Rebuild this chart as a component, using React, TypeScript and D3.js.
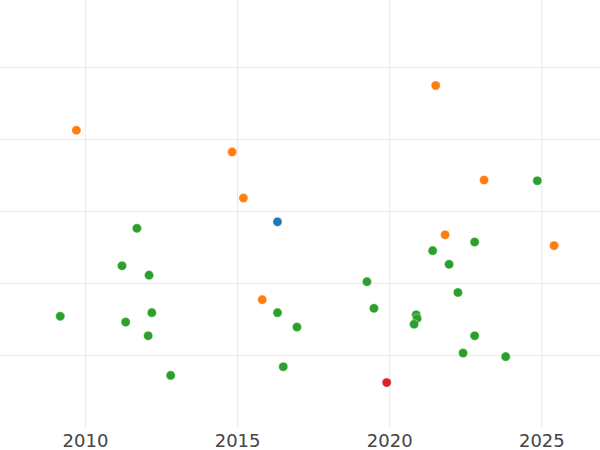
import React from "react";
import * as d3 from "d3";

const groups = ["A", "B", "C", "D"];
const colors = ["#1f77b4", "#ff7f0e", "#2ca02c", "#d62728"];

const yearsA = [2016.31];
const valuesA = [2.85];

const yearsB = [2009.70, 2014.82, 2015.19, 2021.51, 2023.10, 2015.81, 2021.82, 2025.40];
const valuesB = [4.12, 3.82, 3.18, 4.74, 3.43, 1.77, 2.67, 2.52];

const yearsC = [
  2024.85, 2011.69, 2011.20, 2012.09, 2009.17, 2011.32, 2012.18, 2012.06, 2016.31, 2016.95,
  2016.50, 2012.80, 2022.79, 2021.41, 2021.95, 2019.25, 2022.24, 2019.48, 2020.87, 2020.90,
  2020.80, 2022.79, 2022.41, 2023.81,
];
const valuesC = [
  3.42, 2.76, 2.24, 2.11, 1.54, 1.46, 1.59, 1.27, 1.59, 1.39,
  0.84, 0.72, 2.57, 2.45, 2.26, 2.02, 1.87, 1.65, 1.56, 1.51,
  1.43, 1.27, 1.03, 0.98,
];

const yearsD = [2019.90];
const valuesD = [0.62];

const xTicks = [2010, 2015, 2020, 2025];
const yTicks = [1, 2, 3, 4, 5];

const W = 600;
const H = 450;
const plotBottom = 427.3;

export default function App() {
  const x = d3.scaleLinear().domain([2007.19, 2026.91]).range([0, W]);
  const y = d3.scaleLinear().domain([0, 5.927]).range([plotBottom, 0]);

  const series = [
    { years: yearsA, values: valuesA },
    { years: yearsB, values: valuesB },
    { years: yearsC, values: valuesC },
    { years: yearsD, values: valuesD },
  ];

  return (
    <svg
      width={W}
      height={H}
      style={{ position: "absolute", left: 0, top: 0, background: "#fff" }}
    >
      <rect x={0} y={0} width={W} height={H} fill="#fff" />
      <g>
        {yTicks.map((t) => (
          <line
            key={"y" + t}
            x1={0}
            x2={W}
            y1={Math.round(y(t)) + 0.5}
            y2={Math.round(y(t)) + 0.5}
            stroke="#ebebeb"
            strokeWidth={1.2}
          />
        ))}
        {xTicks.map((t) => (
          <line
            key={"x" + t}
            x1={x(t)}
            x2={x(t)}
            y1={0}
            y2={plotBottom}
            stroke="#ebebeb"
            strokeWidth={1.2}
          />
        ))}
      </g>
      <g>
        {series.map((s, i) =>
          s.years.map((yr, j) => (
            <circle
              key={groups[i] + j}
              cx={x(yr)}
              cy={y(s.values[j])}
              r={4.6}
              fill={colors[i]}
              stroke="#fff"
              strokeWidth={0.4}
            />
          ))
        )}
      </g>
      <g>
        {xTicks.map((t) => (
          <text
            key={"t" + t}
            x={x(t)}
            y={447.3}
            textAnchor="middle"
            fontFamily="DejaVu Sans"
            fontSize={18}
            fill="#444"
          >
            {t}
          </text>
        ))}
      </g>
    </svg>
  );
}
